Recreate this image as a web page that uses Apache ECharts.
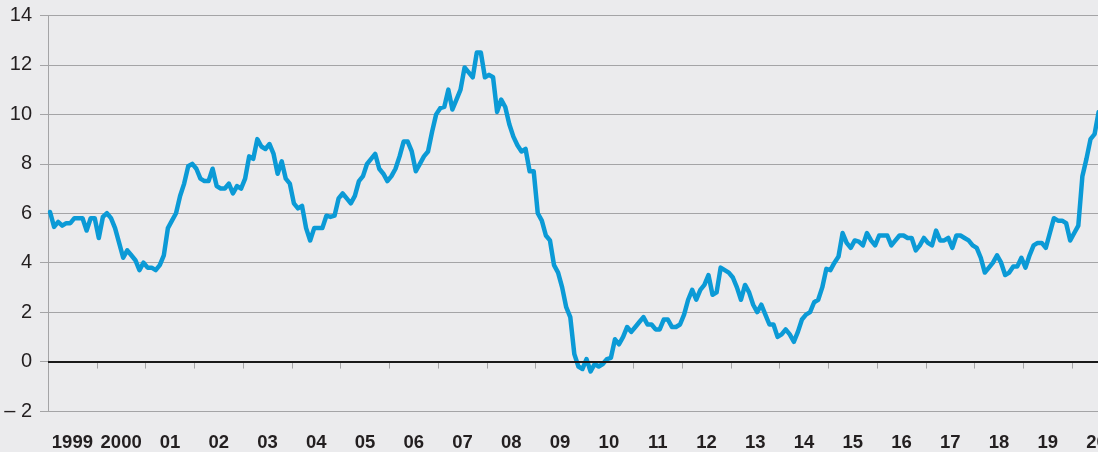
<!DOCTYPE html>
<html>
<head>
<meta charset="utf-8">
<script src="https://cdn.jsdelivr.net/npm/echarts@6/dist/echarts.min.js"></script>
<style>
  html, body { margin: 0; padding: 0; background: #ebebed; overflow: hidden; }
  /* 原图右侧被裁切：画布比视窗宽，超出部分隐藏 */
  #wrap { width: 1098px; height: 452px; overflow: hidden; }
  #chart { width: 1121px; height: 452px; }
</style>
</head>
<body>
<div id="wrap"><div id="chart"></div></div>
<script>
// 年度标签（类目轴，标签居中于两刻度之间）
const yearLabels = ['1999', '2000', '01', '02', '03', '04', '05', '06', '07', '08', '09',
  '10', '11', '12', '13', '14', '15', '16', '17', '18', '19', '20'];

// y 轴刻度
const yTicks = [-2, 0, 2, 4, 6, 8, 10, 12, 14];

// 月度增长率 (%)，1999年1月起
const growth = [
  // 1999
  6.05, 5.45, 5.65, 5.5, 5.6, 5.6, 5.8, 5.8, 5.8, 5.3, 5.8, 5.8,
  // 2000
  5.0, 5.85, 6.0, 5.8, 5.4, 4.8, 4.2, 4.5, 4.3, 4.1, 3.7, 4.0,
  // 2001
  3.8, 3.8, 3.7, 3.9, 4.3, 5.4, 5.7, 6.0, 6.7, 7.2, 7.9, 8.0,
  // 2002
  7.8, 7.4, 7.3, 7.3, 7.8, 7.1, 7.0, 7.0, 7.2, 6.8, 7.1, 7.0,
  // 2003
  7.4, 8.3, 8.2, 9.0, 8.7, 8.6, 8.8, 8.4, 7.6, 8.1, 7.4, 7.2,
  // 2004
  6.4, 6.2, 6.3, 5.4, 4.9, 5.4, 5.4, 5.4, 5.9, 5.85, 5.9, 6.6,
  // 2005
  6.8, 6.6, 6.4, 6.7, 7.3, 7.5, 8.0, 8.2, 8.4, 7.8, 7.6, 7.3,
  // 2006
  7.5, 7.8, 8.3, 8.9, 8.9, 8.5, 7.7, 8.0, 8.3, 8.5, 9.3, 10.0,
  // 2007
  10.25, 10.3, 11.0, 10.2, 10.6, 11.0, 11.9, 11.7, 11.5, 12.5, 12.5, 11.5,
  // 2008
  11.6, 11.5, 10.1, 10.6, 10.3, 9.6, 9.1, 8.75, 8.5, 8.6, 7.7, 7.7,
  // 2009
  6.0, 5.7, 5.1, 4.9, 3.9, 3.6, 3.0, 2.2, 1.8, 0.3, -0.2, -0.3,
  // 2010
  0.1, -0.4, -0.1, -0.2, -0.1, 0.1, 0.15, 0.9, 0.7, 1.0, 1.4, 1.2,
  // 2011
  1.4, 1.6, 1.8, 1.5, 1.5, 1.3, 1.3, 1.7, 1.7, 1.4, 1.4, 1.5,
  // 2012
  1.9, 2.5, 2.9, 2.5, 2.9, 3.1, 3.5, 2.7, 2.8, 3.8, 3.7, 3.6,
  // 2013
  3.4, 3.0, 2.5, 3.1, 2.8, 2.3, 2.0, 2.3, 1.9, 1.5, 1.5, 1.0,
  // 2014
  1.1, 1.3, 1.1, 0.8, 1.2, 1.7, 1.9, 2.0, 2.4, 2.5, 3.0, 3.75,
  // 2015
  3.7, 4.0, 4.25, 5.2, 4.8, 4.6, 4.9, 4.85, 4.7, 5.2, 4.9, 4.7,
  // 2016
  5.1, 5.1, 5.1, 4.7, 4.9, 5.1, 5.1, 5.0, 5.0, 4.5, 4.7, 5.0,
  // 2017
  4.8, 4.7, 5.3, 4.9, 4.9, 5.0, 4.6, 5.1, 5.1, 5.0, 4.9, 4.7,
  // 2018
  4.6, 4.2, 3.6, 3.8, 4.0, 4.3, 4.0, 3.5, 3.6, 3.85, 3.85, 4.2,
  // 2019
  3.8, 4.3, 4.7, 4.8, 4.8, 4.6, 5.2, 5.8, 5.7, 5.7, 5.6, 4.9,
  // 2020
  5.2, 5.5, 7.5, 8.2, 9.0, 9.2, 10.1
];

const FONT = '"Liberation Sans", Arial, Helvetica, sans-serif';
const GRID_GRAY = '#a4a4a6';
const TEXT = '#231f20';

const el = document.getElementById('chart');
const chart = echarts.init(el, null, { width: 1121, height: 452 });

// 月份放在当月中点：第 i 个月 -> i + 0.5
const points = growth.map((v, i) => [i + 0.5, v]);

chart.setOption({
  animation: false,
  backgroundColor: '#ebebed',
  textStyle: { fontFamily: FONT },
  grid: { left: 48, top: 15.5, bottom: 41, right: 0, containLabel: false },
  xAxis: [{
    // 年份类目轴：刻度在年界，标签居中
    type: 'category',
    position: 'bottom',
    data: yearLabels,
    boundaryGap: true,
    axisLine: { show: true, lineStyle: { color: GRID_GRAY, width: 1 } },
    axisTick: { show: true, length: 7, lineStyle: { color: GRID_GRAY, width: 1 } },
    axisLabel: { color: TEXT, fontSize: 18.5, fontWeight: 'bold', margin: 22, interval: 0, fontFamily: FONT },
    splitLine: { show: false }
  }, {
    // 月度数值轴（隐藏），用于绘制折线
    type: 'value',
    position: 'bottom',
    min: 0,
    max: yearLabels.length * 12,
    show: false
  }],
  yAxis: {
    type: 'value',
    min: yTicks[0],
    max: yTicks[yTicks.length - 1],
    interval: 2,
    axisLine: { show: true, lineStyle: { color: GRID_GRAY, width: 1 } },
    axisTick: { show: true, length: 8, lineStyle: { color: GRID_GRAY, width: 1 } },
    axisLabel: {
      color: TEXT, fontSize: 20, margin: 16, fontFamily: FONT,
      formatter: v => v < 0 ? '\u2013 ' + Math.abs(v) : String(v)
    },
    splitLine: { show: true, lineStyle: { color: GRID_GRAY, width: 1.2 } }
  },
  series: [{
    // 零线
    type: 'line',
    xAxisIndex: 1,
    data: [],
    z: 1,
    markLine: {
      silent: true,
      symbol: 'none',
      label: { show: false },
      lineStyle: { color: '#1a1a1a', type: 'solid', width: 2 },
      data: [{ yAxis: 0 }]
    }
  }, {
    type: 'line',
    xAxisIndex: 1,
    data: points,
    z: 3,
    showSymbol: false,
    symbol: 'none',
    lineStyle: { color: '#0b9ad6', width: 4.5, cap: 'round', join: 'round' }
  }]
});
</script>
</body>
</html>
